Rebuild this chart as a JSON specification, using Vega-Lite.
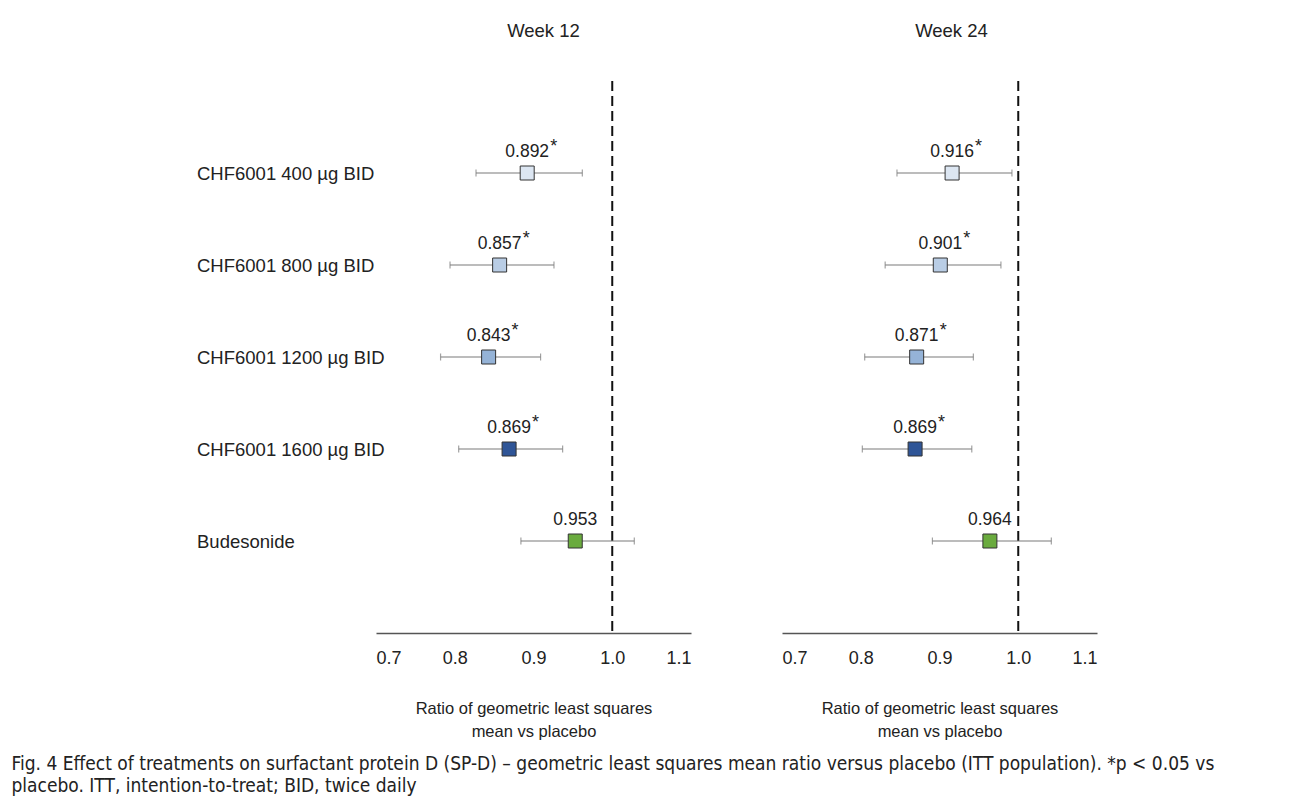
{
  "$schema": "https://vega.github.io/schema/vega-lite/v6.json",
  "padding": {"left": 11, "top": 21, "right": 5, "bottom": 0},
  "background": "white",
  "config": {
    "view": {"stroke": null},
    "font": "Liberation Sans",
    "concat": {"spacing": 91}
  },
  "bounds": "flush",
  "title": {
    "text": ["Fig. 4 Effect of treatments on surfactant protein D (SP-D) – geometric least squares mean ratio versus placebo (ITT population). *p < 0.05 vs", "placebo. ITT, intention-to-treat; BID, twice daily"],
    "orient": "bottom",
    "anchor": "start",
    "dx": -185,
    "offset": 15,
    "font": "DejaVu Sans Condensed",
    "fontSize": 19,
    "fontWeight": "normal",
    "lineHeight": 22,
    "color": "#222222"
  },
  "datasets": {
    "ratios": [
      {"week": "Week 12", "treatment": "CHF6001 400 µg BID", "est": 0.892, "lo": 0.827, "hi": 0.962, "star": "*"},
      {"week": "Week 12", "treatment": "CHF6001 800 µg BID", "est": 0.857, "lo": 0.794, "hi": 0.926, "star": "*"},
      {"week": "Week 12", "treatment": "CHF6001 1200 µg BID", "est": 0.843, "lo": 0.782, "hi": 0.909, "star": "*"},
      {"week": "Week 12", "treatment": "CHF6001 1600 µg BID", "est": 0.869, "lo": 0.805, "hi": 0.937, "star": "*"},
      {"week": "Week 12", "treatment": "Budesonide", "est": 0.953, "lo": 0.884, "hi": 1.028, "star": ""},
      {"week": "Week 24", "treatment": "CHF6001 400 µg BID", "est": 0.916, "lo": 0.846, "hi": 0.992, "star": "*"},
      {"week": "Week 24", "treatment": "CHF6001 800 µg BID", "est": 0.901, "lo": 0.831, "hi": 0.978, "star": "*"},
      {"week": "Week 24", "treatment": "CHF6001 1200 µg BID", "est": 0.871, "lo": 0.805, "hi": 0.943, "star": "*"},
      {"week": "Week 24", "treatment": "CHF6001 1600 µg BID", "est": 0.869, "lo": 0.802, "hi": 0.941, "star": "*"},
      {"week": "Week 24", "treatment": "Budesonide", "est": 0.964, "lo": 0.891, "hi": 1.042, "star": ""}
    ],
    "ref": [{"ratio": 1.0}]
  },
  "hconcat": [
    {
      "width": 315,
      "height": 552,
      "title": {"text": "Week 12", "fontSize": 18.5, "fontWeight": "normal", "offset": 40, "dx": 10, "color": "#222222"},
      "data": {"name": "ratios"},
      "transform": [{"filter": "datum.week === 'Week 12'"}],
      "encoding": {
        "y": {
          "field": "treatment", "type": "nominal",
          "sort": ["CHF6001 400 µg BID", "CHF6001 800 µg BID", "CHF6001 1200 µg BID", "CHF6001 1600 µg BID", "Budesonide"],
          "scale": {"type": "point", "padding": 1},
          "axis": {"title": null, "domain": false, "ticks": false, "tickSize": 0, "labelAlign": "left", "labelPadding": 179.5, "labelLimit": 400, "labelFontSize": 18.5, "labelColor": "#222222"}
        }
      },
      "layer": [
        {
          "data": {"name": "ref"},
          "mark": {"type": "rule", "strokeDash": [10, 5], "strokeWidth": 2, "color": "#111111"},
          "encoding": {"x": {"field": "ratio", "type": "quantitative", "scale": {"domain": [0.7, 1.1], "nice": false, "zero": false}}, "y": null}
        },
        {
          "mark": {"type": "rule", "color": "#7a7a7a", "strokeWidth": 1.2},
          "encoding": {"x": {"field": "lo", "type": "quantitative"}, "x2": {"field": "hi"}}
        },
        {
          "mark": {"type": "tick", "color": "#7a7a7a", "size": 7, "thickness": 1.2},
          "encoding": {"x": {"field": "lo", "type": "quantitative"}}
        },
        {
          "mark": {"type": "tick", "color": "#7a7a7a", "size": 7, "thickness": 1.2},
          "encoding": {"x": {"field": "hi", "type": "quantitative"}}
        },
        {
          "mark": {"type": "point", "shape": "square", "size": 196, "filled": true, "opacity": 1, "stroke": "#333333", "strokeWidth": 1},
          "encoding": {
            "x": {"field": "est", "type": "quantitative",
              "scale": {"domain": [0.7, 1.1], "nice": false, "zero": false},
              "axis": {"values": [0.7, 0.8, 0.9, 1.0, 1.1], "format": ".1f", "grid": false, "ticks": false, "domainColor": "#555555", "domainWidth": 1.5, "labelFontSize": 18, "labelColor": "#222222", "labelPadding": 16, "title": ["Ratio of geometric least squares", "mean vs placebo"], "titleFontSize": 16.5, "titleFontWeight": "normal", "titleColor": "#222222", "titleLineHeight": 23, "titlePadding": 33}},
            "fill": {"field": "treatment", "type": "nominal", "legend": null,
              "scale": {"domain": ["CHF6001 400 µg BID", "CHF6001 800 µg BID", "CHF6001 1200 µg BID", "CHF6001 1600 µg BID", "Budesonide"], "range": ["#dce6f2", "#b9cde5", "#95b3d7", "#2f5597", "#6aab3e"]}}
          }
        },
        {
          "mark": {"type": "text", "fontSize": 17.5, "dy": -21, "color": "#222222"},
          "encoding": {"x": {"field": "est", "type": "quantitative"}, "text": {"field": "est", "type": "quantitative", "format": ".3f"}}
        },
        {
          "mark": {"type": "text", "fontSize": 18, "dy": -26, "dx": 23, "align": "left", "color": "#222222"},
          "encoding": {"x": {"field": "est", "type": "quantitative"}, "text": {"field": "star"}}
        }
      ]
    },
    {
      "width": 315,
      "height": 552,
      "title": {"text": "Week 24", "fontSize": 18.5, "fontWeight": "normal", "offset": 40, "dx": 12, "color": "#222222"},
      "data": {"name": "ratios"},
      "transform": [{"filter": "datum.week === 'Week 24'"}],
      "encoding": {
        "y": {
          "field": "treatment", "type": "nominal",
          "sort": ["CHF6001 400 µg BID", "CHF6001 800 µg BID", "CHF6001 1200 µg BID", "CHF6001 1600 µg BID", "Budesonide"],
          "scale": {"type": "point", "padding": 1},
          "axis": null
        }
      },
      "layer": [
        {
          "data": {"name": "ref"},
          "mark": {"type": "rule", "strokeDash": [10, 5], "strokeWidth": 2, "color": "#111111"},
          "encoding": {"x": {"field": "ratio", "type": "quantitative", "scale": {"domain": [0.7, 1.1], "nice": false, "zero": false}}, "y": null}
        },
        {
          "mark": {"type": "rule", "color": "#7a7a7a", "strokeWidth": 1.2},
          "encoding": {"x": {"field": "lo", "type": "quantitative"}, "x2": {"field": "hi"}}
        },
        {
          "mark": {"type": "tick", "color": "#7a7a7a", "size": 7, "thickness": 1.2},
          "encoding": {"x": {"field": "lo", "type": "quantitative"}}
        },
        {
          "mark": {"type": "tick", "color": "#7a7a7a", "size": 7, "thickness": 1.2},
          "encoding": {"x": {"field": "hi", "type": "quantitative"}}
        },
        {
          "mark": {"type": "point", "shape": "square", "size": 196, "filled": true, "opacity": 1, "stroke": "#333333", "strokeWidth": 1},
          "encoding": {
            "x": {"field": "est", "type": "quantitative",
              "scale": {"domain": [0.7, 1.1], "nice": false, "zero": false},
              "axis": {"values": [0.7, 0.8, 0.9, 1.0, 1.1], "format": ".1f", "grid": false, "ticks": false, "domainColor": "#555555", "domainWidth": 1.5, "labelFontSize": 18, "labelColor": "#222222", "labelPadding": 16, "title": ["Ratio of geometric least squares", "mean vs placebo"], "titleFontSize": 16.5, "titleFontWeight": "normal", "titleColor": "#222222", "titleLineHeight": 23, "titlePadding": 33}},
            "fill": {"field": "treatment", "type": "nominal", "legend": null,
              "scale": {"domain": ["CHF6001 400 µg BID", "CHF6001 800 µg BID", "CHF6001 1200 µg BID", "CHF6001 1600 µg BID", "Budesonide"], "range": ["#dce6f2", "#b9cde5", "#95b3d7", "#2f5597", "#6aab3e"]}}
          }
        },
        {
          "mark": {"type": "text", "fontSize": 17.5, "dy": -21, "color": "#222222"},
          "encoding": {"x": {"field": "est", "type": "quantitative"}, "text": {"field": "est", "type": "quantitative", "format": ".3f"}}
        },
        {
          "mark": {"type": "text", "fontSize": 18, "dy": -26, "dx": 23, "align": "left", "color": "#222222"},
          "encoding": {"x": {"field": "est", "type": "quantitative"}, "text": {"field": "star"}}
        }
      ]
    }
  ]
}
